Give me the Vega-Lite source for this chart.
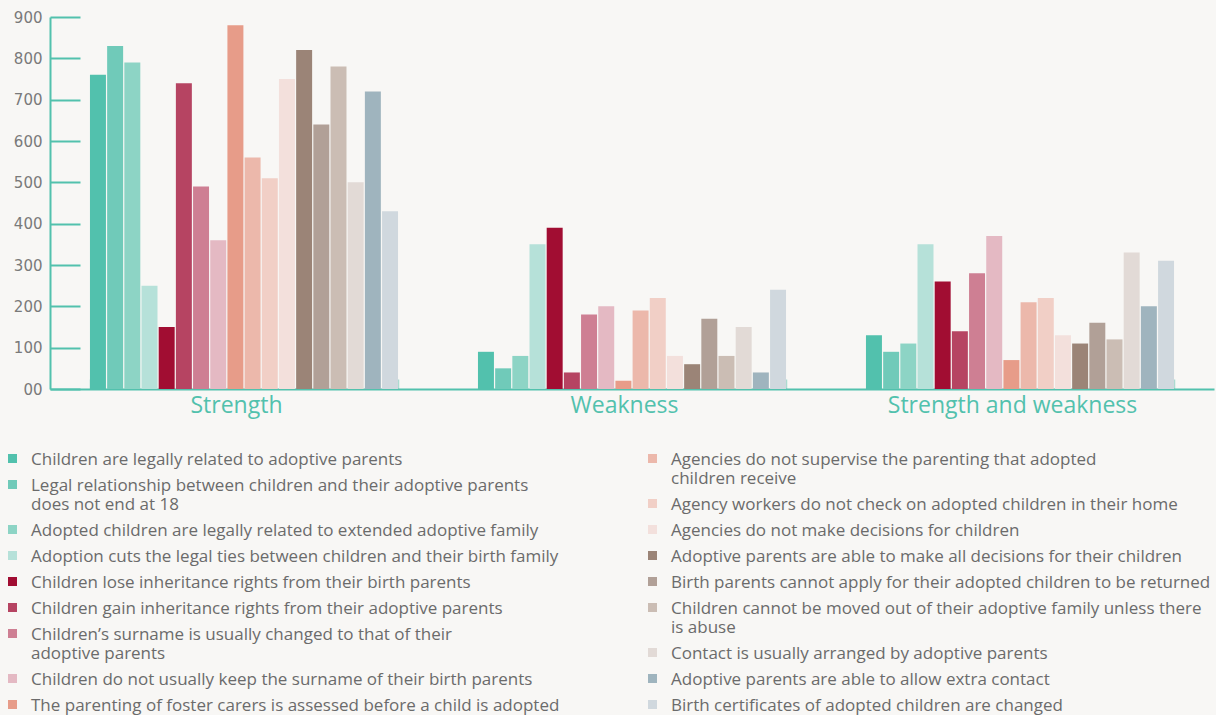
{
  "$schema": "https://vega.github.io/schema/vega-lite/v6.json",
  "width": 1164,
  "height": 372,
  "autosize": "none",
  "padding": {"left": 50, "top": 17, "right": 2, "bottom": 326},
  "background": "#f8f7f5",
  "config": {
    "view": {"stroke": null},
    "legend": {
      "orient": "none",
      "symbolType": "square",
      "symbolSize": 81,
      "symbolStrokeWidth": 0,
      "symbolOpacity": 1,
      "labelFont": "Open Sans",
      "labelFontSize": 17,
      "labelColor": "#6b6b6b",
      "labelLimit": 700,
      "labelLineHeight": 21,
      "labelOffset": 13,
      "labelBaseline": "alphabetic",
      "rowPadding": 8,
      "title": null
    }
  },
  "datasets": {
    "rows": [
      {"category": "Strength", "series": "Children are legally related to adoptive parents", "value": 760},
      {"category": "Strength", "series": "Legal relationship between children and their adoptive parents\ndoes not end at 18", "value": 830},
      {"category": "Strength", "series": "Adopted children are legally related to extended adoptive family", "value": 790},
      {"category": "Strength", "series": "Adoption cuts the legal ties between children and their birth family", "value": 250},
      {"category": "Strength", "series": "Children lose inheritance rights from their birth parents", "value": 150},
      {"category": "Strength", "series": "Children gain inheritance rights from their adoptive parents", "value": 740},
      {"category": "Strength", "series": "Children’s surname is usually changed to that of their\nadoptive parents", "value": 490},
      {"category": "Strength", "series": "Children do not usually keep the surname of their birth parents", "value": 360},
      {"category": "Strength", "series": "The parenting of foster carers is assessed before a child is adopted", "value": 880},
      {"category": "Strength", "series": "Agencies do not supervise the parenting that adopted\nchildren receive", "value": 560},
      {"category": "Strength", "series": "Agency workers do not check on adopted children in their home", "value": 510},
      {"category": "Strength", "series": "Agencies do not make decisions for children", "value": 750},
      {"category": "Strength", "series": "Adoptive parents are able to make all decisions for their children", "value": 820},
      {"category": "Strength", "series": "Birth parents cannot apply for their adopted children to be returned", "value": 640},
      {"category": "Strength", "series": "Children cannot be moved out of their adoptive family unless there\nis abuse", "value": 780},
      {"category": "Strength", "series": "Contact is usually arranged by adoptive parents", "value": 500},
      {"category": "Strength", "series": "Adoptive parents are able to allow extra contact", "value": 720},
      {"category": "Strength", "series": "Birth certificates of adopted children are changed", "value": 430},
      {"category": "Weakness", "series": "Children are legally related to adoptive parents", "value": 90},
      {"category": "Weakness", "series": "Legal relationship between children and their adoptive parents\ndoes not end at 18", "value": 50},
      {"category": "Weakness", "series": "Adopted children are legally related to extended adoptive family", "value": 80},
      {"category": "Weakness", "series": "Adoption cuts the legal ties between children and their birth family", "value": 350},
      {"category": "Weakness", "series": "Children lose inheritance rights from their birth parents", "value": 390},
      {"category": "Weakness", "series": "Children gain inheritance rights from their adoptive parents", "value": 40},
      {"category": "Weakness", "series": "Children’s surname is usually changed to that of their\nadoptive parents", "value": 180},
      {"category": "Weakness", "series": "Children do not usually keep the surname of their birth parents", "value": 200},
      {"category": "Weakness", "series": "The parenting of foster carers is assessed before a child is adopted", "value": 20},
      {"category": "Weakness", "series": "Agencies do not supervise the parenting that adopted\nchildren receive", "value": 190},
      {"category": "Weakness", "series": "Agency workers do not check on adopted children in their home", "value": 220},
      {"category": "Weakness", "series": "Agencies do not make decisions for children", "value": 80},
      {"category": "Weakness", "series": "Adoptive parents are able to make all decisions for their children", "value": 60},
      {"category": "Weakness", "series": "Birth parents cannot apply for their adopted children to be returned", "value": 170},
      {"category": "Weakness", "series": "Children cannot be moved out of their adoptive family unless there\nis abuse", "value": 80},
      {"category": "Weakness", "series": "Contact is usually arranged by adoptive parents", "value": 150},
      {"category": "Weakness", "series": "Adoptive parents are able to allow extra contact", "value": 40},
      {"category": "Weakness", "series": "Birth certificates of adopted children are changed", "value": 240},
      {"category": "Strength and weakness", "series": "Children are legally related to adoptive parents", "value": 130},
      {"category": "Strength and weakness", "series": "Legal relationship between children and their adoptive parents\ndoes not end at 18", "value": 90},
      {"category": "Strength and weakness", "series": "Adopted children are legally related to extended adoptive family", "value": 110},
      {"category": "Strength and weakness", "series": "Adoption cuts the legal ties between children and their birth family", "value": 350},
      {"category": "Strength and weakness", "series": "Children lose inheritance rights from their birth parents", "value": 260},
      {"category": "Strength and weakness", "series": "Children gain inheritance rights from their adoptive parents", "value": 140},
      {"category": "Strength and weakness", "series": "Children’s surname is usually changed to that of their\nadoptive parents", "value": 280},
      {"category": "Strength and weakness", "series": "Children do not usually keep the surname of their birth parents", "value": 370},
      {"category": "Strength and weakness", "series": "The parenting of foster carers is assessed before a child is adopted", "value": 70},
      {"category": "Strength and weakness", "series": "Agencies do not supervise the parenting that adopted\nchildren receive", "value": 210},
      {"category": "Strength and weakness", "series": "Agency workers do not check on adopted children in their home", "value": 220},
      {"category": "Strength and weakness", "series": "Agencies do not make decisions for children", "value": 130},
      {"category": "Strength and weakness", "series": "Adoptive parents are able to make all decisions for their children", "value": 110},
      {"category": "Strength and weakness", "series": "Birth parents cannot apply for their adopted children to be returned", "value": 160},
      {"category": "Strength and weakness", "series": "Children cannot be moved out of their adoptive family unless there\nis abuse", "value": 120},
      {"category": "Strength and weakness", "series": "Contact is usually arranged by adoptive parents", "value": 330},
      {"category": "Strength and weakness", "series": "Adoptive parents are able to allow extra contact", "value": 200},
      {"category": "Strength and weakness", "series": "Birth certificates of adopted children are changed", "value": 310}
    ]
  },
  "data": {"name": "rows"},
  "encoding": {
    "x": {
      "field": "category",
      "type": "nominal",
      "sort": ["Strength", "Weakness", "Strength and weakness"],
      "scale": {"paddingInner": 0.206, "paddingOuter": 0.103},
      "axis": {
        "title": null,
        "labelAngle": 0,
        "labelFont": "Open Sans",
        "labelFontSize": 23,
        "labelLimit": 0,
        "labelColor": "#52c1ad",
        "labelPadding": 15,
        "labelOffset": -8,
        "domainColor": "#52c1ad",
        "domainWidth": 2,
        "tickBand": "extent",
        "tickOffset": 40,
        "tickSize": -10,
        "tickColor": "#aadbd0",
        "tickWidth": 1.5
      }
    },
    "xOffset": {
      "field": "series",
      "type": "nominal",
      "scale": {
        "domain": [
          "Children are legally related to adoptive parents",
          "Legal relationship between children and their adoptive parents\ndoes not end at 18",
          "Adopted children are legally related to extended adoptive family",
          "Adoption cuts the legal ties between children and their birth family",
          "Children lose inheritance rights from their birth parents",
          "Children gain inheritance rights from their adoptive parents",
          "Children’s surname is usually changed to that of their\nadoptive parents",
          "Children do not usually keep the surname of their birth parents",
          "The parenting of foster carers is assessed before a child is adopted",
          "Agencies do not supervise the parenting that adopted\nchildren receive",
          "Agency workers do not check on adopted children in their home",
          "Agencies do not make decisions for children",
          "Adoptive parents are able to make all decisions for their children",
          "Birth parents cannot apply for their adopted children to be returned",
          "Children cannot be moved out of their adoptive family unless there\nis abuse",
          "Contact is usually arranged by adoptive parents",
          "Adoptive parents are able to allow extra contact",
          "Birth certificates of adopted children are changed"
        ],
        "paddingInner": 0.07,
        "paddingOuter": 0
      }
    },
    "y": {
      "field": "value",
      "type": "quantitative",
      "scale": {"domain": [0, 900], "nice": false},
      "axis": {
        "title": null,
        "values": [0, 100, 200, 300, 400, 500, 600, 700, 800, 900],
        "labelExpr": "datum.value === 0 ? '00' : datum.label",
        "labelFont": "DejaVu Sans",
        "labelFontSize": 15,
        "labelColor": "#7a7a7a",
        "labelPadding": 38,
        "domainColor": "#52c1ad",
        "domainWidth": 2,
        "tickColor": "#52c1ad",
        "tickWidth": 2,
        "tickSize": -30,
        "grid": false
      }
    }
  },
  "layer": [
    {
      "transform": [{"filter": {"field": "series", "oneOf": [
        "Children are legally related to adoptive parents",
        "Legal relationship between children and their adoptive parents\ndoes not end at 18",
        "Adopted children are legally related to extended adoptive family",
        "Adoption cuts the legal ties between children and their birth family",
        "Children lose inheritance rights from their birth parents",
        "Children gain inheritance rights from their adoptive parents",
        "Children’s surname is usually changed to that of their\nadoptive parents",
        "Children do not usually keep the surname of their birth parents",
        "The parenting of foster carers is assessed before a child is adopted"
      ]}}],
      "mark": {"type": "bar"},
      "encoding": {
        "color": {
          "field": "series",
          "type": "nominal",
          "scale": {
            "domain": [
              "Children are legally related to adoptive parents",
              "Legal relationship between children and their adoptive parents\ndoes not end at 18",
              "Adopted children are legally related to extended adoptive family",
              "Adoption cuts the legal ties between children and their birth family",
              "Children lose inheritance rights from their birth parents",
              "Children gain inheritance rights from their adoptive parents",
              "Children’s surname is usually changed to that of their\nadoptive parents",
              "Children do not usually keep the surname of their birth parents",
              "The parenting of foster carers is assessed before a child is adopted"
            ],
            "range": ["#52c1ad", "#70cab9", "#8dd4c5", "#b6e1d9", "#a10d32", "#b64462", "#ce7f93", "#e4b9c3", "#e79c89"]
          },
          "legend": {
            "legendX": -46,
            "legendY": 433,
            "labelOffset": 10,
            "labelExpr": "split(datum.label, '\\n')",
            "encode": {"labels": {"update": {"dy": {"value": 6}}}}
          }
        }
      }
    },
    {
      "transform": [{"filter": {"field": "series", "oneOf": [
        "Agencies do not supervise the parenting that adopted\nchildren receive",
        "Agency workers do not check on adopted children in their home",
        "Agencies do not make decisions for children",
        "Adoptive parents are able to make all decisions for their children",
        "Birth parents cannot apply for their adopted children to be returned",
        "Children cannot be moved out of their adoptive family unless there\nis abuse",
        "Contact is usually arranged by adoptive parents",
        "Adoptive parents are able to allow extra contact",
        "Birth certificates of adopted children are changed"
      ]}}],
      "mark": {"type": "bar"},
      "encoding": {
        "color": {
          "field": "series",
          "type": "nominal",
          "scale": {
            "domain": [
              "Agencies do not supervise the parenting that adopted\nchildren receive",
              "Agency workers do not check on adopted children in their home",
              "Agencies do not make decisions for children",
              "Adoptive parents are able to make all decisions for their children",
              "Birth parents cannot apply for their adopted children to be returned",
              "Children cannot be moved out of their adoptive family unless there\nis abuse",
              "Contact is usually arranged by adoptive parents",
              "Adoptive parents are able to allow extra contact",
              "Birth certificates of adopted children are changed"
            ],
            "range": ["#ecb8ab", "#f1cfc6", "#f3e0dc", "#9b8477", "#b1a097", "#cbbdb4", "#e2dad6", "#9fb4be", "#d0d8de"]
          },
          "legend": {
            "legendX": 594,
            "legendY": 433,
            "labelOffset": 10,
            "labelExpr": "split(datum.label, '\\n')",
            "encode": {"labels": {"update": {"dy": {"value": 6}}}}
          }
        }
      }
    }
  ],
  "resolve": {"scale": {"color": "independent"}}
}
